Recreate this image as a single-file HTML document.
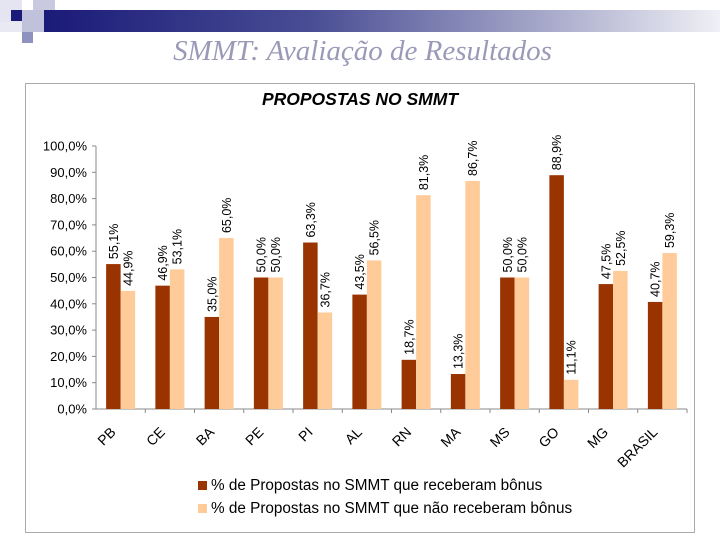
<!DOCTYPE html>
<html><head><meta charset="utf-8">
<style>
body{margin:0;width:720px;height:540px;background:#fff;overflow:hidden;position:relative;font-family:"Liberation Sans",sans-serif}
.sq{position:absolute}
</style></head><body>
<div class="sq" style="left:44px;top:10px;width:676px;height:22px;background:linear-gradient(90deg,#1a1a78 0%,#4a4e94 40%,#a9abcb 75%,#f0f0f6 100%)"></div>
<div class="sq" style="left:0;top:0;width:22px;height:22px;background:#e4e5f0"></div>
<div class="sq" style="left:33px;top:0;width:22px;height:10px;background:#c9cae0"></div>
<div class="sq" style="left:11px;top:10px;width:11px;height:11px;background:#1a1a78"></div>
<div class="sq" style="left:22px;top:10px;width:22px;height:22px;background:#c0c2dc"></div>
<div class="sq" style="left:22px;top:32px;width:11px;height:11px;background:#8f92bf"></div>
<div class="sq" style="left:0;top:22px;width:22px;height:10px;background:#e8e9f2"></div>
<div style="position:absolute;left:0;width:725px;top:35px;text-align:center;font-family:'Liberation Serif',serif;font-style:italic;font-size:29px;color:#9a9ab8">SMMT: Avaliação de Resultados</div>
<svg width="720" height="540" style="position:absolute;left:0;top:0" id="c">
<rect x="25.5" y="83.5" width="669" height="449" fill="none" stroke="#aaa"/>
<text x="360" y="105" text-anchor="middle" font-weight="bold" font-style="italic" font-size="17.5" fill="#000">PROPOSTAS NO SMMT</text>
</svg>
<script>
const categories=["PB","CE","BA","PE","PI","AL","RN","MA","MS","GO","MG","BRASIL"];
const received=[55.1,46.9,35.0,50.0,63.3,43.5,18.7,13.3,50.0,88.9,47.5,40.7];
const notReceived=[44.9,53.1,65.0,50.0,36.7,56.5,81.3,86.7,50.0,11.1,52.5,59.3];
const yTicks=[0,10,20,30,40,50,60,70,80,90,100];
const svg=document.getElementById('c');const NS='http://www.w3.org/2000/svg';
const x0=96,x1=687,y0=409,yTop=146,cw=(x1-x0)/categories.length;
const y=v=>y0-(y0-yTop)*v/100;
function mk(t,a,p){const e=document.createElementNS(NS,t);for(const k in a)e.setAttribute(k,a[k]);(p||svg).appendChild(e);return e;}
const fmt=v=>v.toFixed(1).replace('.',',')+'%';
yTicks.forEach(v=>{
 const l=mk('line',{x1:x0-4,x2:x0,y1:y(v),y2:y(v),stroke:'#888'});
 
 
 const t=mk('text',{x:x0-9,y:y(v)+4.5,'text-anchor':'end','font-size':'13'});t.textContent=fmt(v);
 
 
});
const ax=mk('line',{x1:x0,x2:x0,y1:yTop,y2:y0,stroke:'#888'});


const bx=mk('line',{x1:x0,x2:x1,y1:y0,y2:y0,stroke:'#888'});


const bw=14.5;
categories.forEach((c,i)=>{
 const cx=x0+cw*(i+0.5);
 const tk=mk('line',{x1:x0+cw*(i+1),x2:x0+cw*(i+1),y1:y0,y2:y0+4,stroke:'#888'});
 
 
 [[received[i],'#993300',cx-bw,'bar-received'],[notReceived[i],'#ffcc99',cx,'bar-not-received']].forEach(([v,col,bxp,nm])=>{
  const r=mk('rect',{x:bxp,y:y(v),width:bw,height:y0-y(v),fill:col});
  
  
  const tx=bxp+bw/2+4.5,ty=y(v)-5;
  const t=mk('text',{x:tx,y:ty,transform:`rotate(-90 ${tx} ${ty})`,'font-size':'12.5'});t.textContent=fmt(v);
  
  
 });
 const lx=cx-4,ly=y0+24;
 const t=mk('text',{x:lx,y:ly,transform:`rotate(-45 ${lx} ${ly})`,'text-anchor':'end','font-size':'14'});t.textContent=c;
 
 
});
[['#993300','% de Propostas no SMMT que receberam bônus',490],['#ffcc99','% de Propostas no SMMT que não receberam bônus',513]].forEach(([col,txt,ly])=>{
 const r=mk('rect',{x:198,y:ly-9,width:9,height:9,fill:col});
 
 
 const t=mk('text',{x:211,y:ly,'font-size':'15.3'});t.textContent=txt;
 
 
});
</script>
</body></html>
